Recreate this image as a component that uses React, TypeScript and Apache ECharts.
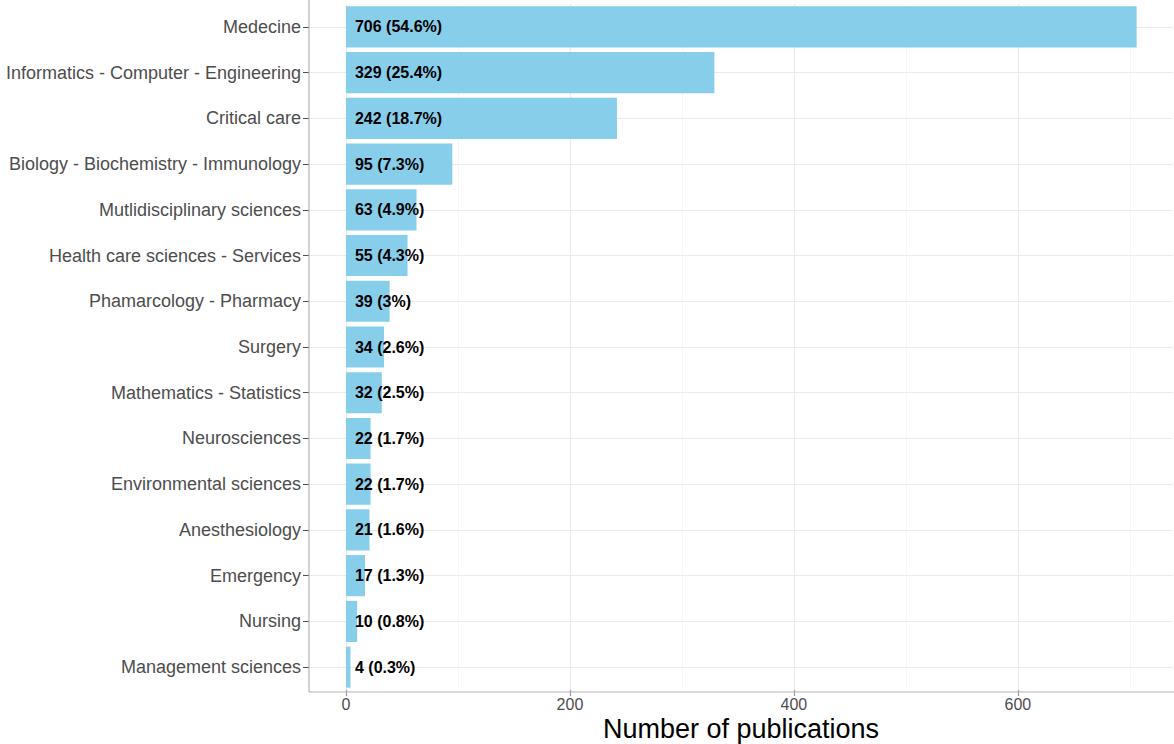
import React, { useEffect, useRef } from "react";
import * as echarts from "echarts";

const categories = [
  "Medecine",
  "Informatics - Computer - Engineering",
  "Critical care",
  "Biology - Biochemistry - Immunology",
  "Mutlidisciplinary sciences",
  "Health care sciences - Services",
  "Phamarcology - Pharmacy",
  "Surgery",
  "Mathematics - Statistics",
  "Neurosciences",
  "Environmental sciences",
  "Anesthesiology",
  "Emergency",
  "Nursing",
  "Management sciences",
];
const counts = [706, 329, 242, 95, 63, 55, 39, 34, 32, 22, 22, 21, 17, 10, 4];
const percents = [54.6, 25.4, 18.7, 7.3, 4.9, 4.3, 3, 2.6, 2.5, 1.7, 1.7, 1.6, 1.3, 0.8, 0.3];
const xTicks = [0, 200, 400, 600];
const xGridMajor = [0, 200, 400, 600];
const xGridMinor = [100, 300, 500, 700];
const xTitle = "Number of publications";

export default function App() {
  const ref = useRef<HTMLDivElement>(null);
  useEffect(() => {
    if (!ref.current) return;
    const chart = echarts.init(ref.current, null, { renderer: "svg" });
    const font = "Liberation Sans, Arial, Helvetica, sans-serif";
    const gridColor = "#ebebeb";
    const axisColor = "#b3b3b3";
    chart.setOption({
      animation: false,
      backgroundColor: "#ffffff",
      textStyle: { fontFamily: font },
      grid: {
        left: 309,
        right: 1,
        top: 4,
        bottom: 54,
        containLabel: false,
        outerBoundsMode: "none",
      },
      graphic: [
        {
          type: "line",
          z: 100,
          shape: { x1: 309, y1: 0, x2: 309, y2: 692 },
          style: { stroke: axisColor, lineWidth: 1.2 },
        },
        {
          type: "line",
          z: 100,
          shape: { x1: 309, y1: 692, x2: 1174, y2: 692 },
          style: { stroke: axisColor, lineWidth: 1.2 },
        },
        {
          type: "text",
          z: 100,
          x: 741,
          y: 729,
          style: {
            text: xTitle,
            fill: "#000000",
            fontSize: 27,
            fontFamily: font,
            textAlign: "center",
            textVerticalAlign: "middle",
          },
        },
      ],
      xAxis: {
        type: "value",
        min: -33,
        max: 738.5,
        axisLine: { show: false },
        axisTick: {
          show: true,
          length: 6,
          customValues: xTicks,
          lineStyle: { color: "#9a9a9a", width: 1.2 },
        },
        axisLabel: {
          customValues: xTicks,
          fontSize: 16,
          color: "#4d4d4d",
          margin: 6,
          fontFamily: font,
        },
        splitLine: { show: false },
      },
      yAxis: {
        type: "category",
        data: categories,
        inverse: true,
        axisLine: { show: false, onZero: false },
        axisTick: {
          show: true,
          length: 6,
          alignWithLabel: true,
          lineStyle: { color: "#4d4d4d", width: 1 },
        },
        axisLabel: {
          fontSize: 18,
          color: "#4d4d4d",
          margin: 8,
          fontFamily: font,
        },
        splitLine: { show: false },
      },
      series: [
        {
          type: "line",
          data: [],
          silent: true,
          z: 0,
          markLine: {
            silent: true,
            z: 0,
            symbol: ["none", "none"],
            label: { show: false },
            animation: false,
            data: [
              ...categories.map((c) => ({
                yAxis: c,
                lineStyle: { color: gridColor, width: 1.2, type: "solid" },
              })),
              ...xGridMajor.map((v) => ({
                xAxis: v,
                lineStyle: { color: gridColor, width: 1.2, type: "solid" },
              })),
              ...xGridMinor.map((v) => ({
                xAxis: v,
                lineStyle: { color: "#f2f2f2", width: 0.8, type: "solid" },
              })),
            ],
          },
        },
        {
          type: "bar",
          data: counts,
          barWidth: "90%",
          z: 3,
          itemStyle: { color: "#87ceeb" },
          label: {
            show: true,
            position: "insideLeft",
            distance: 9,
            fontSize: 16,
            fontWeight: "bold",
            color: "#000000",
            fontFamily: font,
            formatter: (p: any) => `${counts[p.dataIndex]} (${percents[p.dataIndex]}%)`,
          },
        },
      ],
    });
    return () => chart.dispose();
  }, []);
  return (
    <div
      ref={ref}
      style={{ position: "fixed", left: 0, top: 0, width: 1174, height: 744, background: "#fff" }}
    />
  );
}
